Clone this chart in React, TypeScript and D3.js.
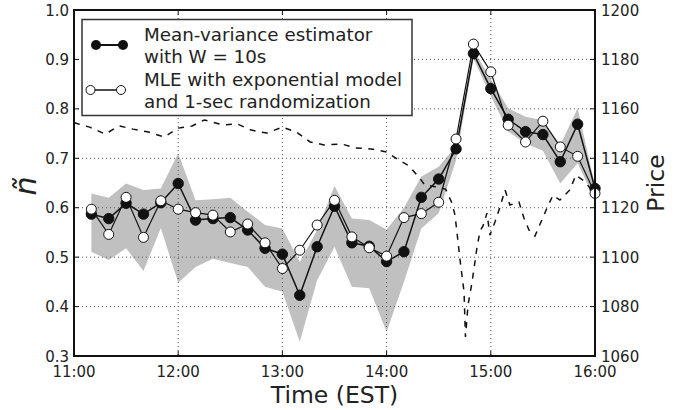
import React from "react";
import * as d3 from "d3";

const times = ["11:10","11:20","11:30","11:40","11:50","12:00","12:10","12:20","12:30","12:40","12:50","13:00","13:10","13:20","13:30","13:40","13:50","14:00","14:10","14:20","14:30","14:40","14:50","15:00","15:10","15:20","15:30","15:40","15:50","16:00"];
const meanVar = [0.587,0.578,0.609,0.587,0.610,0.649,0.575,0.578,0.580,0.555,0.518,0.506,0.423,0.521,0.603,0.529,0.522,0.491,0.511,0.621,0.658,0.719,0.912,0.841,0.779,0.754,0.748,0.693,0.769,0.639];
const mle = [0.597,0.546,0.621,0.540,0.614,0.597,0.590,0.585,0.551,0.567,0.529,0.477,0.514,0.565,0.615,0.541,0.519,0.502,0.580,0.588,0.611,0.739,0.931,0.875,0.767,0.733,0.775,0.723,0.704,0.629];
const bandUpper = [0.629,0.620,0.649,0.636,0.639,0.710,0.615,0.617,0.620,0.592,0.565,0.558,0.490,0.555,0.644,0.578,0.575,0.556,0.600,0.663,0.683,0.725,0.920,0.860,0.801,0.784,0.777,0.727,0.801,0.645];
const bandLower = [0.511,0.494,0.518,0.472,0.559,0.448,0.480,0.497,0.488,0.480,0.440,0.430,0.329,0.453,0.521,0.440,0.437,0.349,0.450,0.558,0.589,0.696,0.902,0.826,0.754,0.730,0.715,0.649,0.690,0.615];

// price: minutes after 11:00 and price level
const priceMinutes = [0,2,9,18,26,34,43,52,60,68,75,86,94,102,111,120,128,136,144,154,162,172,180,188,193,199,202,208,214,217.6,219.4,222.3,224.6,225.4,226.9,229.2,232,233.8,235.5,237.8,239.5,242.4,245.3,248.2,251,256.2,259.1,262,265.4,268.9,272.4,275.8,279.8,285.5,289,293.7,297.1,300];
const priceValues = [1154.5,1154,1152.6,1149.8,1153.1,1151.8,1150.6,1148.6,1152.2,1153.1,1155.5,1153.5,1153.9,1151.4,1150.2,1152.6,1150.6,1146.6,1145.4,1145.8,1144.2,1143.7,1142.5,1138.9,1136.9,1132.0,1129.2,1128.5,1127.5,1121.9,1117,1098.8,1085.9,1067.7,1080.6,1089.9,1103.7,1110.6,1112.6,1117.8,1108.9,1114.2,1120.3,1127.2,1121.1,1122.3,1115.8,1111.0,1108.5,1114.2,1119.9,1125.1,1123.1,1127.2,1133.2,1130.8,1128.0,1124];

const xTickLabels = ["11:00","12:00","13:00","14:00","15:00","16:00"];
const yTicks = [0.3,0.4,0.5,0.6,0.7,0.8,0.9,1.0];
const priceTicks = [1060,1080,1100,1120,1140,1160,1180,1200];

const W = 687, H = 410;
const L = 74, R = 595, T = 10, B = 356;
const FONT = "'DejaVu Sans', sans-serif";

const toMin = (s: string) => {
  const [h, m] = s.split(":").map(Number);
  return (h - 11) * 60 + m;
};

export default function App() {
  const x = d3.scaleLinear().domain([0, 300]).range([L, R]);
  const y = d3.scaleLinear().domain([0.3, 1.0]).range([B, T]);
  const yp = d3.scaleLinear().domain([1060, 1200]).range([B, T]);

  const tm = times.map(toMin);
  const area = d3.area<number>()
    .x((_, i) => x(tm[i]))
    .y0((_, i) => y(bandLower[i]))
    .y1((d) => y(d));
  const line = d3.line<number>().x((_, i) => x(tm[i])).y((d) => y(d));
  const priceLine = d3.line<number>().x((_, i) => x(priceMinutes[i])).y((d) => yp(d));

  const gridColor = "#555";
  return (
    <svg width={W} height={H} style={{ position: "absolute", left: 0, top: 0, background: "#fff" }} fontFamily={FONT}>
      <rect x={0} y={0} width={W} height={H} fill="#fff" />
      <path d={area(bandUpper) || ""} fill="#c0c0c0" stroke="none" />
      {/* grid */}
      {xTickLabels.slice(1, -1).map((t) => (
        <line key={"gx" + t} x1={x(toMin(t))} x2={x(toMin(t))} y1={T} y2={B} stroke={gridColor} strokeWidth={1} strokeDasharray="1,3" />
      ))}
      {yTicks.slice(1, -1).map((v) => (
        <line key={"gy" + v} x1={L} x2={R} y1={y(v)} y2={y(v)} stroke={gridColor} strokeWidth={1} strokeDasharray="1,3" />
      ))}
      {/* price */}
      <path d={priceLine(priceValues) || ""} fill="none" stroke="#111" strokeWidth={1.5} strokeDasharray="6,6.5" />
      {/* series */}
      <path d={line(meanVar) || ""} fill="none" stroke="#111" strokeWidth={1.5} />
      {meanVar.map((v, i) => (
        <circle key={"f" + i} cx={x(tm[i])} cy={y(v)} r={5.2} fill="#111" stroke="#111" strokeWidth={1} />
      ))}
      <path d={line(mle) || ""} fill="none" stroke="#111" strokeWidth={1.2} />
      {mle.map((v, i) => (
        <circle key={"o" + i} cx={x(tm[i])} cy={y(v)} r={5} fill="#fff" stroke="#111" strokeWidth={1} />
      ))}
      {/* spines */}
      <rect x={L} y={T} width={R - L} height={B - T} fill="none" stroke="#111" strokeWidth={2} />
      {/* ticks */}
      {xTickLabels.map((t) => {
        const xx = x(toMin(t));
        return (
          <g key={"xt" + t}>
            <line x1={xx} x2={xx} y1={B} y2={B - 5} stroke="#111" strokeWidth={1} />
            <line x1={xx} x2={xx} y1={T} y2={T + 5} stroke="#111" strokeWidth={1} />
            <text x={xx} y={377} textAnchor="middle" fontSize={15} fill="#222">{t}</text>
          </g>
        );
      })}
      {yTicks.map((v) => (
        <g key={"yt" + v}>
          <line x1={L} x2={L + 5} y1={y(v)} y2={y(v)} stroke="#111" strokeWidth={1} />
          <text x={69} y={y(v) + 5.5} textAnchor="end" fontSize={15} fill="#222">{v.toFixed(1)}</text>
        </g>
      ))}
      {priceTicks.map((v) => (
        <g key={"pt" + v}>
          <line x1={R} x2={R - 5} y1={yp(v)} y2={yp(v)} stroke="#111" strokeWidth={1} />
          <text x={601} y={yp(v) + 5.5} textAnchor="start" fontSize={15} fill="#222">{v}</text>
        </g>
      ))}
      {/* axis labels */}
      <text x={(L + R) / 2} y={403} textAnchor="middle" fontSize={23.5} fill="#222">Time (EST)</text>
      <text transform={`translate(664,${(T + B) / 2}) rotate(-90)`} textAnchor="middle" fontSize={23.5} fill="#222">Price</text>
      <text transform={`translate(36,186) rotate(-90)`} textAnchor="middle" fontSize={30} fontStyle="italic" fill="#222">ñ</text>
      {/* legend */}
      <rect x={82} y={19.5} width={330} height={96} fill="#fff" stroke="#333" strokeWidth={1.5} />
      <line x1={96} x2={123} y1={45} y2={45} stroke="#111" strokeWidth={2} />
      <circle cx={96} cy={45} r={5} fill="#111" />
      <circle cx={123} cy={45} r={5} fill="#111" />
      <line x1={90.5} x2={121} y1={90} y2={90} stroke="#111" strokeWidth={1.5} />
      <circle cx={90.5} cy={90} r={4.5} fill="#fff" stroke="#111" strokeWidth={1} />
      <circle cx={121} cy={90} r={4.5} fill="#fff" stroke="#111" strokeWidth={1} />
      <g fontSize={18.3} fill="#222">
        <text x={144} y={41}>Mean-variance estimator</text>
        <text x={144} y={63}>with W = 10s</text>
        <text x={144} y={86}>MLE with exponential model</text>
        <text x={144} y={108}>and 1-sec randomization</text>
      </g>
    </svg>
  );
}
